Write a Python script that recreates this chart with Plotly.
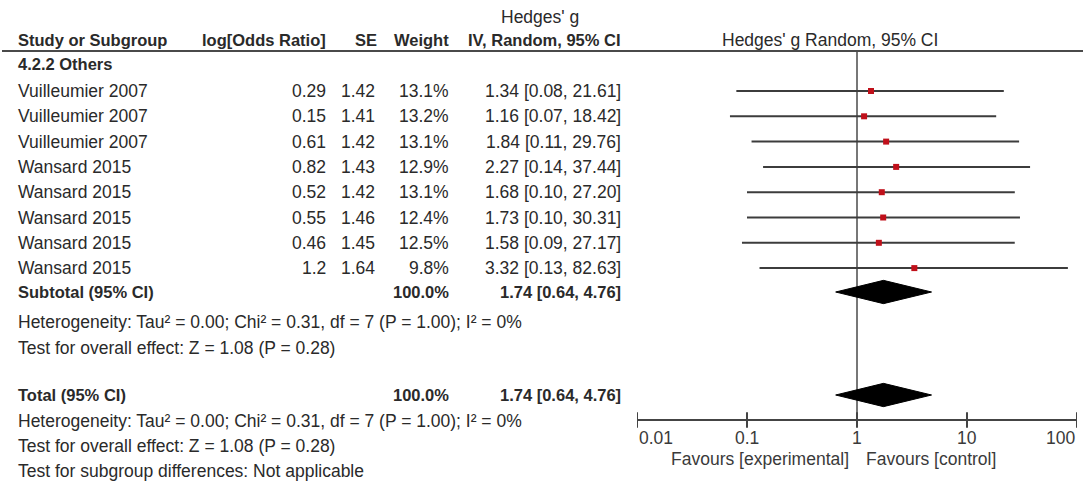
import math
import plotly.graph_objects as go

# ---------------- data ----------------
subgroup_label = "4.2.2 Others"
studies = ["Vuilleumier 2007", "Vuilleumier 2007", "Vuilleumier 2007",
           "Wansard 2015", "Wansard 2015", "Wansard 2015", "Wansard 2015", "Wansard 2015"]
log_or = [0.29, 0.15, 0.61, 0.82, 0.52, 0.55, 0.46, 1.2]
se = [1.42, 1.41, 1.42, 1.43, 1.42, 1.46, 1.45, 1.64]
weights = [13.1, 13.2, 13.1, 12.9, 13.1, 12.4, 12.5, 9.8]
g_est = [1.34, 1.16, 1.84, 2.27, 1.68, 1.73, 1.58, 3.32]
ci_low = [0.08, 0.07, 0.11, 0.14, 0.10, 0.10, 0.09, 0.13]
ci_high = [21.61, 18.42, 29.76, 37.44, 27.20, 30.31, 27.17, 82.63]

pooled_est = 1.74
pooled_low = 0.64
pooled_high = 4.76
total_weight = 100.0

heterogeneity_text = "Heterogeneity: Tau² = 0.00; Chi² = 0.31, df = 7 (P = 1.00); I² = 0%"
overall_text = "Test for overall effect: Z = 1.08 (P = 0.28)"
subgroup_diff_text = "Test for subgroup differences: Not applicable"

tick_vals = [0.01, 0.1, 1, 10, 100]
tick_labels = ["0.01", "0.1", "1", "10", "100"]

# ---------------- layout helpers ----------------
W, H = 1083, 486
ROW0_PX, ROW_PX = 91.0, 25.3
FONT = "Liberation Sans, Arial, sans-serif"
FS = 17.5
FS_B = 16.5
TXT = "#2a2a2a"


def row(py):
    return (py - ROW0_PX) / ROW_PX


annotations = []


def txt(s, xpx, r, anchor="left", bold=False, size=None, color=TXT):
    annotations.append(dict(
        text=f"<b>{s}</b>" if bold else s,
        x=xpx / W, xref="paper", y=r, yref="y",
        xanchor=anchor, yanchor="middle", showarrow=False,
        font=dict(family=FONT, size=size or (FS_B if bold else FS), color=color),
    ))


X_NAME, X_LOR, X_SE, X_W, X_CI = 16, 328, 377, 451, 623

# header
txt("Hedges' g", 540, row(17), "center")
txt("Study or Subgroup", X_NAME, row(40), bold=True)
txt("log[Odds Ratio]", X_LOR, row(40), "right", bold=True)
txt("SE", X_SE + 2, row(40), "right", bold=True)
txt("Weight", X_W, row(40), "right", bold=True)
txt("IV, Random, 95% CI", X_CI, row(40), "right", bold=True)
txt("Hedges' g Random, 95% CI", 830, row(40), "center")

txt(subgroup_label, X_NAME, row(64), bold=True)

for i, name in enumerate(studies):
    txt(name, X_NAME, i)
    txt(f"{log_or[i]}", X_LOR, i, "right")
    txt(f"{se[i]:.2f}", X_SE, i, "right")
    txt(f"{weights[i]:.1f}%", X_W, i, "right")
    txt(f"{g_est[i]:.2f} [{ci_low[i]:.2f}, {ci_high[i]:.2f}]", X_CI, i, "right")

r_sub = row(292)
r_total = row(395)
pooled_text = f"{pooled_est:.2f} [{pooled_low:.2f}, {pooled_high:.2f}]"
txt("Subtotal (95% CI)", X_NAME, r_sub, bold=True)
txt(f"{total_weight:.1f}%", X_W, r_sub, "right", bold=True)
txt(pooled_text, X_CI, r_sub, "right", bold=True)
txt(heterogeneity_text, X_NAME, row(322))
txt(overall_text, X_NAME, row(348))

txt("Total (95% CI)", X_NAME, r_total, bold=True)
txt(f"{total_weight:.1f}%", X_W, r_total, "right", bold=True)
txt(pooled_text, X_CI, r_total, "right", bold=True)
txt(heterogeneity_text, X_NAME, row(421))
txt(overall_text, X_NAME, row(446))
txt(subgroup_diff_text, X_NAME, row(471))

# axis tick labels (annotation x on a log axis is given in log10 units)
r_axis = row(420)
AX_COL = "#3a3a3a"
for j, (v, lab) in enumerate(zip(tick_vals, tick_labels)):
    anchor = "left" if j == 0 else ("right" if j == len(tick_vals) - 1 else "center")
    annotations.append(dict(
        text=lab, x=math.log10(v), xref="x", y=row(438), yref="y",
        xanchor=anchor, yanchor="middle", showarrow=False,
        font=dict(family=FONT, size=FS, color=AX_COL),
    ))
annotations.append(dict(text="Favours [experimental]", x=math.log10(1), xref="x",
                        y=row(459), yref="y", xanchor="right", yanchor="middle",
                        xshift=-6, showarrow=False,
                        font=dict(family=FONT, size=FS, color=AX_COL)))
annotations.append(dict(text="Favours [control]", x=math.log10(1), xref="x",
                        y=row(459), yref="y", xanchor="left", yanchor="middle",
                        xshift=7, showarrow=False,
                        font=dict(family=FONT, size=FS, color=AX_COL)))

# ---------------- traces ----------------
fig = go.Figure()

# line of no effect
fig.add_trace(go.Scatter(x=[1, 1], y=[row(51), r_axis], mode="lines",
                         line=dict(color="#4a4a4a", width=1.5),
                         hoverinfo="skip", showlegend=False))

# confidence intervals
ci_x, ci_y = [], []
for i in range(len(studies)):
    ci_x += [ci_low[i], ci_high[i], None]
    ci_y += [i, i, None]
fig.add_trace(go.Scatter(x=ci_x, y=ci_y, mode="lines",
                         line=dict(color="#3c3c3c", width=2),
                         hoverinfo="skip", showlegend=False))

# point estimates
fig.add_trace(go.Scatter(x=g_est, y=list(range(len(studies))), mode="markers",
                         marker=dict(symbol="square", size=6, color="#c0101a"),
                         showlegend=False))

# diamonds
half = 0.46
for rr in (r_sub, r_total):
    fig.add_trace(go.Scatter(
        x=[pooled_low, pooled_est, pooled_high, pooled_est, pooled_low],
        y=[rr, rr - half, rr, rr + half, rr],
        mode="lines", fill="toself", fillcolor="#000000",
        line=dict(color="#000000", width=1), showlegend=False, hoverinfo="skip"))

# axis tick marks crossing the axis line
fig.add_trace(go.Scatter(x=tick_vals, y=[r_axis] * len(tick_vals), mode="markers",
                         marker=dict(symbol="line-ns", size=11,
                                     line=dict(color="#444444", width=2)),
                         hoverinfo="skip", showlegend=False))

shapes = [dict(type="line", xref="paper", yref="y", x0=2 / W, x1=1,
               y0=row(51), y1=row(51), line=dict(color="#4a4a4a", width=2))]

fig.update_layout(
    width=W, height=H,
    margin=dict(l=0, r=0, t=0, b=0),
    paper_bgcolor="white", plot_bgcolor="white",
    showlegend=False,
    annotations=annotations,
    shapes=shapes,
    xaxis=dict(type="log", range=[-2, 2], domain=[637 / W, 1077 / W],
               anchor="free", position=1 - 420 / H,
               showline=True, linecolor="#444444", linewidth=2,
               showgrid=False, zeroline=False, ticks="", showticklabels=False),
    yaxis=dict(range=[row(H), row(0)], domain=[0, 1], visible=False,
               showgrid=False, zeroline=False),
)

fig.write_html("out.html", config={"displayModeBar": False},
               post_script="document.body.style.margin='0';document.body.style.padding='0';document.body.style.overflow='hidden';")
